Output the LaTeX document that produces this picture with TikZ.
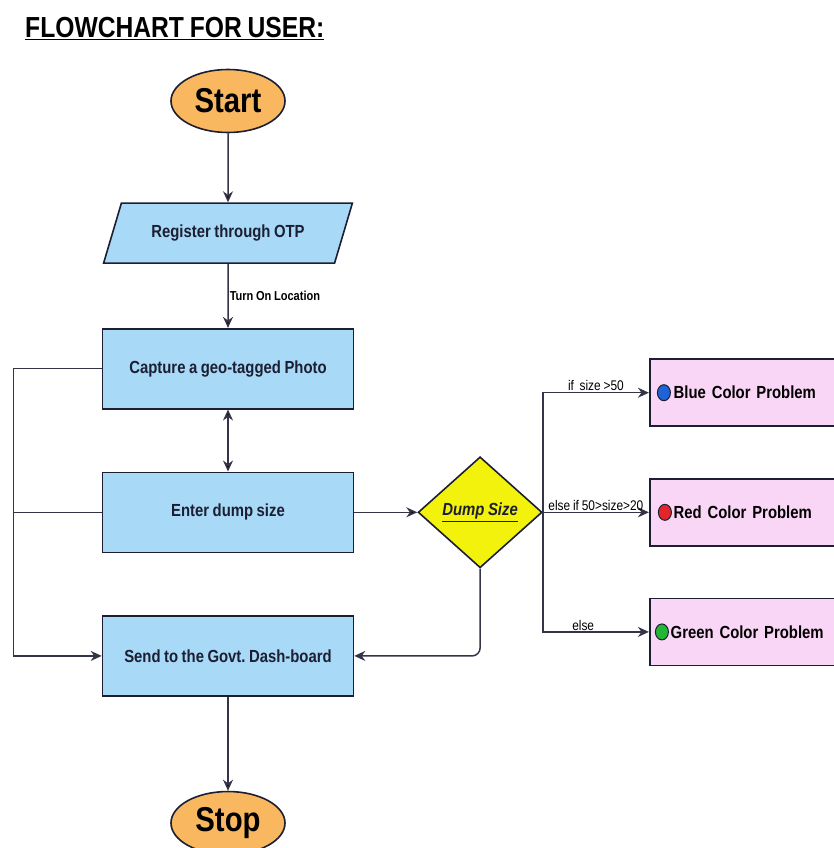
\documentclass[tikz,border=0pt]{standalone}
\usepackage{fontspec}
\newfontfamily\chartfont{Liberation Sans}[FakeStretch=0.85,WordSpace=0.85]
\usepackage{xcolor}
\usepackage{tikz}
\usetikzlibrary{shapes.geometric,arrows.meta,positioning}
\definecolor{termfill}{HTML}{F9B75F}
\definecolor{stepfill}{HTML}{A8D9F6}
\definecolor{decfill}{HTML}{F3F20C}
\definecolor{probfill}{HTML}{F9D6F5}
\definecolor{inkdark}{HTML}{1C1F33}
\definecolor{dotblue}{HTML}{1E64D6}
\definecolor{dotred}{HTML}{E3262B}
\definecolor{dotgreen}{HTML}{23B534}
\frenchspacing
\tikzset{>={Stealth[length=11pt,width=10pt]}}
\tikzset{terminal/.style={ellipse,draw=inkdark,line width=1.6pt,fill=termfill,minimum width=114pt,minimum height=63pt,inner sep=0pt,font=\chartfont\bfseries\fontsize{34.5}{36}\selectfont},
         stepbox/.style={rectangle,draw=inkdark,line width=1.6pt,fill=stepfill,minimum width=251pt,minimum height=80pt,text=inkdark,font=\chartfont\bfseries\fontsize{17.5}{20}\selectfont},
         inputbox/.style={trapezium,trapezium left angle=52,trapezium right angle=128,trapezium stretches=true,draw=inkdark,line width=1.6pt,fill=stepfill,minimum width=249pt,minimum height=60pt,inner sep=0pt,text=inkdark,font=\chartfont\bfseries\fontsize{17.5}{20}\selectfont},
         decision/.style={diamond,draw=inkdark,line width=1.6pt,fill=decfill,minimum width=124pt,minimum height=111pt,inner sep=0pt,text=inkdark,font=\chartfont\bfseries\itshape\fontsize{17.5}{20}\selectfont},
         probbox/.style={rectangle,draw=inkdark,line width=1.6pt,fill=probfill,minimum height=67pt,text width=170pt,inner xsep=24pt,align=left,font=\chartfont\bfseries\fontsize{17.5}{20}\selectfont},
         dot/.style={ellipse,draw=inkdark,line width=1pt,minimum width=13pt,minimum height=16pt,inner sep=0pt},
         link/.style={draw=inkdark!90,line width=1.5pt},
         smalltext/.style={font=\chartfont\fontsize{14}{16}\selectfont,inner sep=1pt},
            }

\begin{document}
\begin{tikzpicture}[x=1pt,y=-1pt]

    \useasboundingbox (0,0) rectangle (834,848);
    \clip (0,0) rectangle (834,848);

    \node[anchor=base west,inner sep=0pt,font=\chartfont\bfseries\fontsize{29}{32}\selectfont] (title) at (25,38) {\underline{FLOWCHART FOR USER:}};

    \node[terminal] (start) at (228,101) {Start};
    \node[inputbox] (otp) [below = 69pt of start] {Register through OTP};
    \node[stepbox] (capture) [below = 64pt of otp] {Capture a geo-tagged Photo};
    \node[stepbox] (enter) [below = 62pt of capture] {Enter dump size};
    \node[stepbox] (send) [below = 62pt of enter] {Send to the Govt. Dash-board};
    \node[terminal] (stop) [below = 94pt of send] {Stop};

    \node[decision] (dump) [right = 63pt of enter] {\underline{Dump Size}};
    \node[probbox] (red) [right = 106pt of dump] {Red Color Problem};
    \node[probbox] (blue) [above = 51pt of red] {Blue Color Problem};
    \node[probbox] (green) [below = 51pt of red] {\hspace*{-3pt}Green Color Problem};

    \node[dot,fill=dotblue] (bluedot) at ([xshift=15pt]blue.west) {};
    \node[dot,fill=dotred] (reddot) at ([xshift=16pt]red.west) {};
    \node[dot,fill=dotgreen] (greendot) at ([xshift=13pt]green.west) {};

    \coordinate (loopleft) at ([xshift=-88pt]capture.west);

    \path[link,->]
    (start) edge (otp)
    (otp) edge node[right,smalltext,font=\chartfont\bfseries\fontsize{13}{15}\selectfont] {Turn On Location} (capture)
    (capture) edge [<->] (enter)
    (enter) edge (dump)
    (send) edge (stop);

    \draw[link,->] (capture.west) -- (loopleft) |- (send.west);
    \draw[link] (enter.west) -- (enter.west -| loopleft);
    \draw[link,->,rounded corners=8pt] (dump.south) |- (send.east);

    \draw[link,->] (dump.east) |- (blue.west) node[pos=0.75,above,smalltext] {if\ \ size >50};
    \draw[link,->] (dump.east) -- (red.west) node[midway,above,smalltext] {else if 50>size>20};
    \draw[link,->] (dump.east) |- (green.west) node[pos=0.69,above,smalltext] {else};

\end{tikzpicture}
\end{document}
